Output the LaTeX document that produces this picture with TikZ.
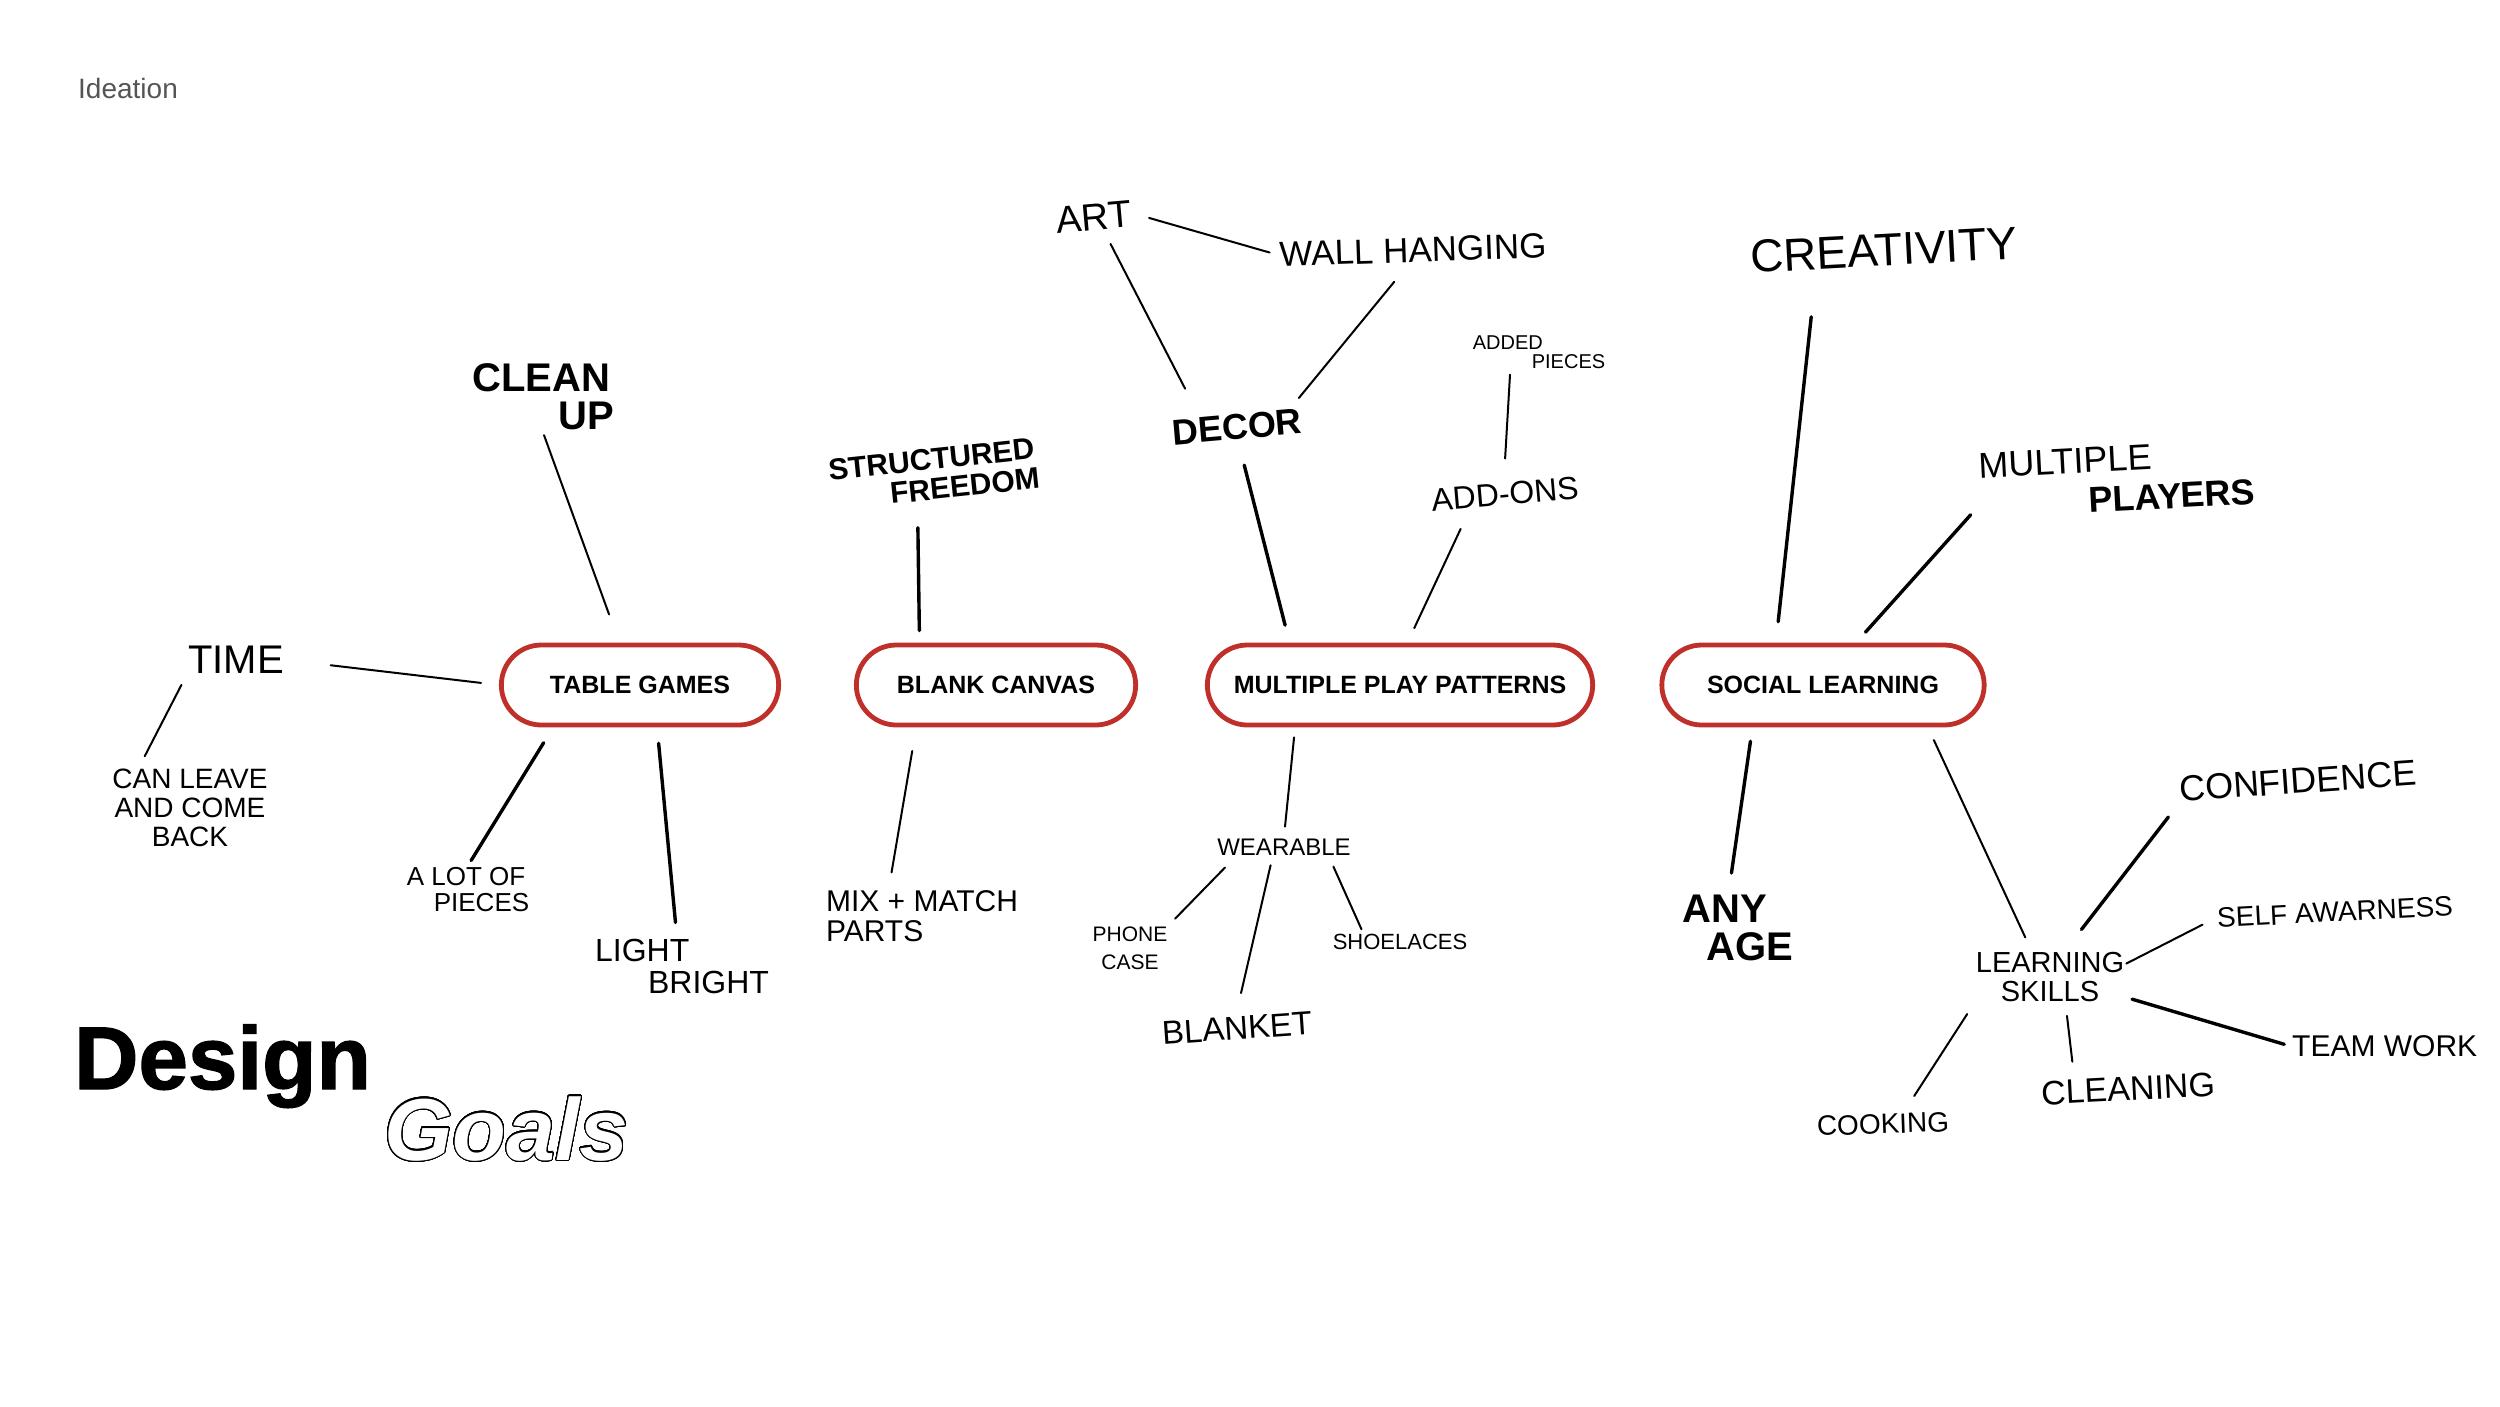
\documentclass[tikz,border=0pt]{standalone}
\usepackage{fontspec}
\usepackage{xcolor}
\usepackage{contour}
\usetikzlibrary{calc,arrows.meta,positioning,shapes.misc}
\setmainfont{Liberation Sans}
\newfontfamily\handfont{Liberation Sans}
\newfontfamily\boxfont{Liberation Sans}
\newfontfamily\titlefont[BoldFeatures={FakeBold=1.5}]{Liberation Sans}
\definecolor{goalRed}{RGB}{192,48,43}
\definecolor{ideaGray}{RGB}{85,85,85}
\newcommand\hand[2]{\handfont\fontsize{#1}{#2}\selectfont}
\lineskiplimit=-100pt
\contourlength{1.1pt}
\contournumber{48}

\begin{document}
\begin{tikzpicture}[x=1pt,y=-1pt,
  goal/.style={rounded rectangle, draw=goalRed, line width=4.8pt, minimum height=80pt,
    font=\boxfont\bfseries\fontsize{25}{25}\selectfont, text=black},
  note/.style={inner sep=2pt, align=left, text=black},
  link/.style={line width=2pt, line cap=round, black},
  heavylink/.style={line width=3.4pt, line cap=round, black}]
\useasboundingbox (0,0) rectangle (2500,1406);

\node[anchor=base west, inner sep=0pt, text=ideaGray, font=\fontsize{28}{28}\selectfont] (ideation) at (78,98) {Ideation};

\node[goal, minimum width=284pt] (tg) at (640,685) {TABLE GAMES};
\node[goal, minimum width=286pt] (bc) at (996,685) {BLANK CANVAS};
\node[goal, minimum width=392pt] (mpp) at (1400,685) {MULTIPLE PLAY PATTERNS};
\node[goal, minimum width=329pt] (sl) at (1823,685) {SOCIAL LEARNING};

\node[note, font=\hand{40}{40}] (time) at (236,660) {TIME};
\node[note, align=center, font=\hand{28}{29}] (leave) at (190,808) {CAN LEAVE\\AND COME\\BACK};
\node[note, font=\bfseries\hand{40}{38}] (clean) at (543,397) {CLEAN\\\hspace*{86pt}UP};
\node[note, font=\hand{26}{26}] (pieces) at (468,890) {A LOT OF\\\hspace*{27pt}PIECES};
\node[note, font=\hand{32}{32}] (bright) at (682,966) {LIGHT\\\hspace*{53pt}BRIGHT};

\node[note, rotate=6, font=\bfseries\hand{30}{30}] (freedom) at (934,474) {STRUCTURED\\\hspace*{59pt}FREEDOM};
\node[note, font=\hand{30}{30}] (mix) at (922,916) {MIX + MATCH\\PARTS};

\node[note, rotate=5, font=\hand{38}{38}] (art) at (1094,217) {ART};
\node[note, rotate=2, font=\hand{35}{35}] (wall) at (1413,250) {WALL HANGING};
\node[note, rotate=5, font=\bfseries\hand{36}{36}] (decor) at (1237,427) {DECOR};
\node[note, font=\hand{20}{19}] (added) at (1539,352) {ADDED\\\hspace*{59pt}PIECES};
\node[note, rotate=5, font=\hand{32}{32}] (addons) at (1505,494) {ADD-ONS};
\node[note, font=\hand{24}{24}] (wear) at (1284,847) {WEARABLE};
\node[note, align=center, font=\hand{21}{28}] (phone) at (1130,948) {PHONE\\CASE};
\node[note, rotate=4, font=\hand{33}{33}] (blanket) at (1237,1028) {BLANKET};
\node[note, font=\hand{22}{22}] (laces) at (1400,942) {SHOELACES};

\node[note, rotate=3, font=\hand{46}{46}] (crea) at (1884,250) {CREATIVITY};
\node[note, rotate=3, font=\hand{36}{40}] (players) at (2117,479) {MULTIPLE\\\hspace*{108pt}\textbf{PLAYERS}};
\node[note, font=\bfseries\hand{40}{38}] (age) at (1738,928) {ANY\\\hspace*{24pt}AGE};
\node[note, align=center, font=\hand{29}{29}] (skills) at (2050,977) {LEARNING\\SKILLS};
\node[note, rotate=4, font=\hand{36}{36}] (conf) at (2298,781) {CONFIDENCE};
\node[note, rotate=3, font=\hand{28}{28}] (aware) at (2335,912) {SELF AWARNESS};
\node[note, anchor=west, font=\hand{30}{30}] (team) at (2290,1046) {TEAM WORK};
\node[note, rotate=3, font=\hand{34}{34}] (cleaning) at (2128,1089) {CLEANING};
\node[note, rotate=2, font=\hand{28}{28}] (cooking) at (1883,1124) {COOKING};

\node[anchor=base west, inner sep=0pt, font=\titlefont\bfseries\fontsize{89}{89}\selectfont] (design) at (74,1089) {Design};
\node[anchor=base west, inner sep=0pt, text=white, font=\titlefont\bfseries\itshape\fontsize{88}{88}\selectfont] (goals) at (384,1160) {\contour{black}{Goals}};

\draw[link, shorten <=45pt, shorten >=18pt] (time.east) -- (tg.west);
\draw[link, shorten <=10pt, shorten >=12pt] (time.south west) -- (leave.141);
\draw[link, shorten <=3pt, shorten >=30pt] (clean.south) -- (tg.116);
\draw[heavylink, shorten <=18pt, shorten >=6pt] (tg.206) -- (pieces.north);
\draw[heavylink, shorten <=16pt, shorten >=14pt] (tg.292) -- (bright.100);
\draw[heavylink, shorten <=24pt, shorten >=12pt] (freedom.235) -- (bc.151);
\draw[link, shorten <=24pt, shorten >=16pt] (bc.208) -- (mix.140);

\draw[link, shorten <=16pt, shorten >=8pt] (art.east) -- (wall.west);
\draw[link, shorten <=30pt, shorten >=14pt] (decor.158) -- (art.300);
\draw[link, shorten <=12pt, shorten >=22pt] (decor.15) -- (wall.250);
\draw[heavylink, shorten <=24pt, shorten >=18pt] (decor.south) -- (mpp.159);
\draw[link, shorten <=4pt, shorten >=22pt] (added.213) -- (addons.north);
\draw[link, shorten <=20pt, shorten >=16pt] (addons.200) -- (mpp.80);
\draw[link, shorten <=10pt, shorten >=10pt] (mpp.202) -- (wear.north);
\draw[link, shorten <=14pt, shorten >=8pt] (wear.192) -- (phone.north east);
\draw[link, shorten <=8pt, shorten >=22pt] (wear.222) -- (blanket.north);
\draw[link, shorten <=10pt, shorten >=3pt] (wear.347) -- (laces.165);

\draw[heavylink, shorten <=45pt, shorten >=21pt] (crea.195) -- (sl.138);
\draw[heavylink, shorten <=12pt, shorten >=14pt] (players.188) -- (sl.52);
\draw[heavylink, shorten <=14pt, shorten >=20pt] (sl.211) -- (age.105);
\draw[link, shorten <=14pt, shorten >=14pt] (sl.338) -- (skills.125);
\draw[heavylink, shorten <=26pt, shorten >=16pt] (skills.60) -- (conf.south west);
\draw[link, shorten >=14pt] (skills.10) -- (aware.west);
\draw[heavylink, shorten <=6pt, shorten >=6pt] (skills.345) -- (team.west);
\draw[link, shorten <=12pt, shorten >=16pt] (skills.300) -- (cleaning.165);
\draw[link, shorten <=12pt, shorten >=18pt] (skills.south west) -- (cooking.29);
\end{tikzpicture}
\end{document}
